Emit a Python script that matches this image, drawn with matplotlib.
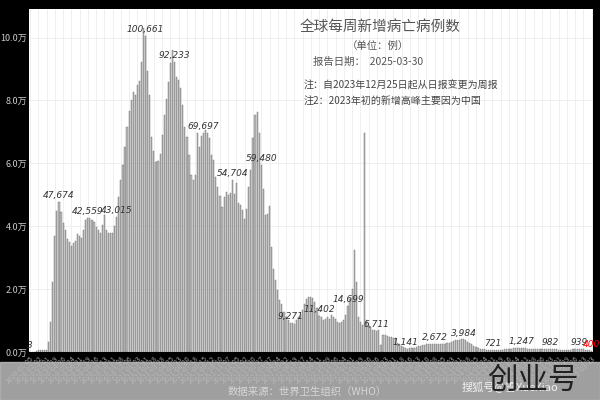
import numpy as np
import pandas as pd
import matplotlib
matplotlib.use('Agg')
import matplotlib.pyplot as plt
from matplotlib.patches import Rectangle
from matplotlib.ticker import FuncFormatter

plt.rcParams['font.family'] = ['Noto Sans CJK SC', 'DejaVu Sans']
plt.rcParams['axes.unicode_minus'] = False

# 每周新增死亡 (WHO), 2020-01-05 起, 共 273 周
deaths = [
    3, 20, 150, 400, 600, 700, 650, 500, 550, 3300, 9600, 22300, 36800, 45000,
    47674, 44500, 41000, 38900, 36100, 35000, 33700, 34700, 35300, 37500, 36800, 36400, 38900, 41900,
    42559, 42500, 42000, 41500, 39800, 38800, 38000, 40300, 43500, 38900, 37700, 37800, 38000, 40000,
    43015, 49300, 54800, 59400, 65200, 71500, 76800, 80000, 82600, 81600, 84800, 86100, 92200, 103000,
    100661, 89400, 81700, 68500, 64000, 60500, 60800, 63100, 69000, 75300, 80400, 86000, 91800, 96000,
    92233, 87600, 86500, 83900, 78500, 71700, 68500, 62700, 56300, 54700, 56300, 69600, 65300, 68700,
    69697, 70600, 69700, 68000, 62700, 61100, 55800, 52600, 49600, 46200, 49400, 51000, 50000, 50500,
    54704, 50200, 53800, 47500, 46800, 45200, 42400, 45500, 52600, 58000, 68000, 75500, 76400, 69600,
    59480, 52000, 43500, 44000, 46300, 33400, 26500, 22800, 19600, 16400, 15400, 12700, 11100, 10100,
    9271, 9200, 9000, 10100, 11100, 11700, 13300, 15200, 16700, 17500, 17500, 17300, 15900, 14000,
    11402, 11100, 10100, 10600, 11100, 10600, 11700, 11100, 10600, 9500, 9200, 9500, 10100, 11700,
    14699, 16700, 20000, 32300, 22300, 11100, 9500, 8500, 69800, 10100, 8500, 8000, 6900, 6900,
    6711, 6900, 2100, 5300, 5300, 5000, 4800, 4800, 4600, 4600, 2900, 2700, 2000, 1500,
    1141, 1100, 1200, 1300, 1400, 1600, 1800, 2000, 2200, 2300, 2400, 2500, 2600, 2600,
    2672, 2700, 2600, 2500, 2500, 2600, 2800, 3000, 3300, 3500, 3700, 3800, 3900, 4000,
    3984, 3700, 3300, 2900, 2500, 2000, 1600, 1300, 1100, 900, 800, 750, 700, 700,
    721, 650, 600, 600, 650, 700, 800, 900, 1000, 1100, 1150, 1200, 1200, 1250,
    1247, 1200, 1150, 1100, 1050, 1000, 1000, 950, 950, 950, 1000, 1000, 1000, 980,
    982, 950, 900, 850, 750, 650, 600, 550, 550, 600, 700, 800, 900, 950,
    939, 900, 850, 750, 650, 550, 400,
]
dates = pd.date_range('2020-01-05', periods=len(deaths), freq='7D')
label_idx = list(range(0, len(deaths), 14)) + [len(deaths) - 1]

title = '全球每周新增病亡病例数'
unit = '（单位：例）'
report = '报告日期：  2025-03-30'
note1 = '注：自2023年12月25日起从日报变更为周报'
note2 = '注2：2023年初的新增高峰主要因为中国'
source = '数据来源：世界卫生组织（WHO）'

fig = plt.figure(figsize=(6, 4), dpi=100, facecolor='black')
ax = fig.add_axes([0.048, 0.12, 0.94, 0.8575])
ax.set_facecolor('white')

x = np.arange(len(deaths))
ax.bar(x, deaths, width=0.55, color='#bdbdbd', edgecolor='#6a6a6a', linewidth=0.3)

ax.set_xlim(-0.6, len(deaths) - 0.4)
ax.set_ylim(0, 109100)
ax.set_yticks(range(0, 100001, 20000))
ax.yaxis.set_major_formatter(FuncFormatter(lambda v, p: f'{v / 10000:.1f}万'))
tick_pos = x[::4]
ax.set_xticks(tick_pos)
ax.set_xticklabels([dates[i].strftime('%Y-%m-%d') for i in tick_pos],
                   rotation=45, ha='right', rotation_mode='anchor')
ax.tick_params(axis='x', length=0, labelsize=5, colors='#a0a0a0', pad=2)
ax.tick_params(axis='y', length=0, labelsize=6.5, colors='#cccccc', pad=1)
for s in ax.spines.values():
    s.set_visible(False)
ax.set_axisbelow(True)
ax.grid(color='#ededed', linewidth=0.6)

for i in label_idx:
    c = 'red' if i == len(deaths) - 1 else '#333333'
    ax.text(i, deaths[i] + 600, f'{deaths[i]:,}', ha='center', va='bottom',
            fontsize=6.5, style='italic', color=c, family='DejaVu Sans', clip_on=False)

fig.text(380 / 600, 1 - 27 / 400, title, ha='center', va='center', fontsize=10.5, color='#555555')
fig.text(378 / 600, 1 - 46 / 400, unit, ha='center', va='center', fontsize=7.5, color='#555555')
fig.text(368 / 600, 1 - 62 / 400, report, ha='center', va='center', fontsize=7.5, color='#555555')
fig.text(304 / 600, 1 - 86 / 400, note1, ha='left', va='center', fontsize=7.2, color='#444444')
fig.text(304 / 600, 1 - 102 / 400, note2, ha='left', va='center', fontsize=7.2, color='#444444')

# 底部灰色水印带
fig.add_artist(Rectangle((0, 0), 1, 38 / 400, transform=fig.transFigure,
                         color='#bcbcbc', alpha=0.85, zorder=10))
fig.text(307 / 600, 1 - 392 / 400, source, ha='center', va='center', fontsize=7.5,
         color='#d6d6d6', zorder=11)
fig.text(510 / 600, 1 - 387 / 400, '搜狐号@雪XueXiao', ha='center', va='center',
         fontsize=8, color='#f2f2f2', zorder=11)
fig.text(533 / 600, 1 - 380 / 400, '创业号', ha='center', va='center',
         fontsize=22, color='#222222', fontweight='light', zorder=12)

fig.savefig('out.png', dpi=100, facecolor=fig.get_facecolor())
